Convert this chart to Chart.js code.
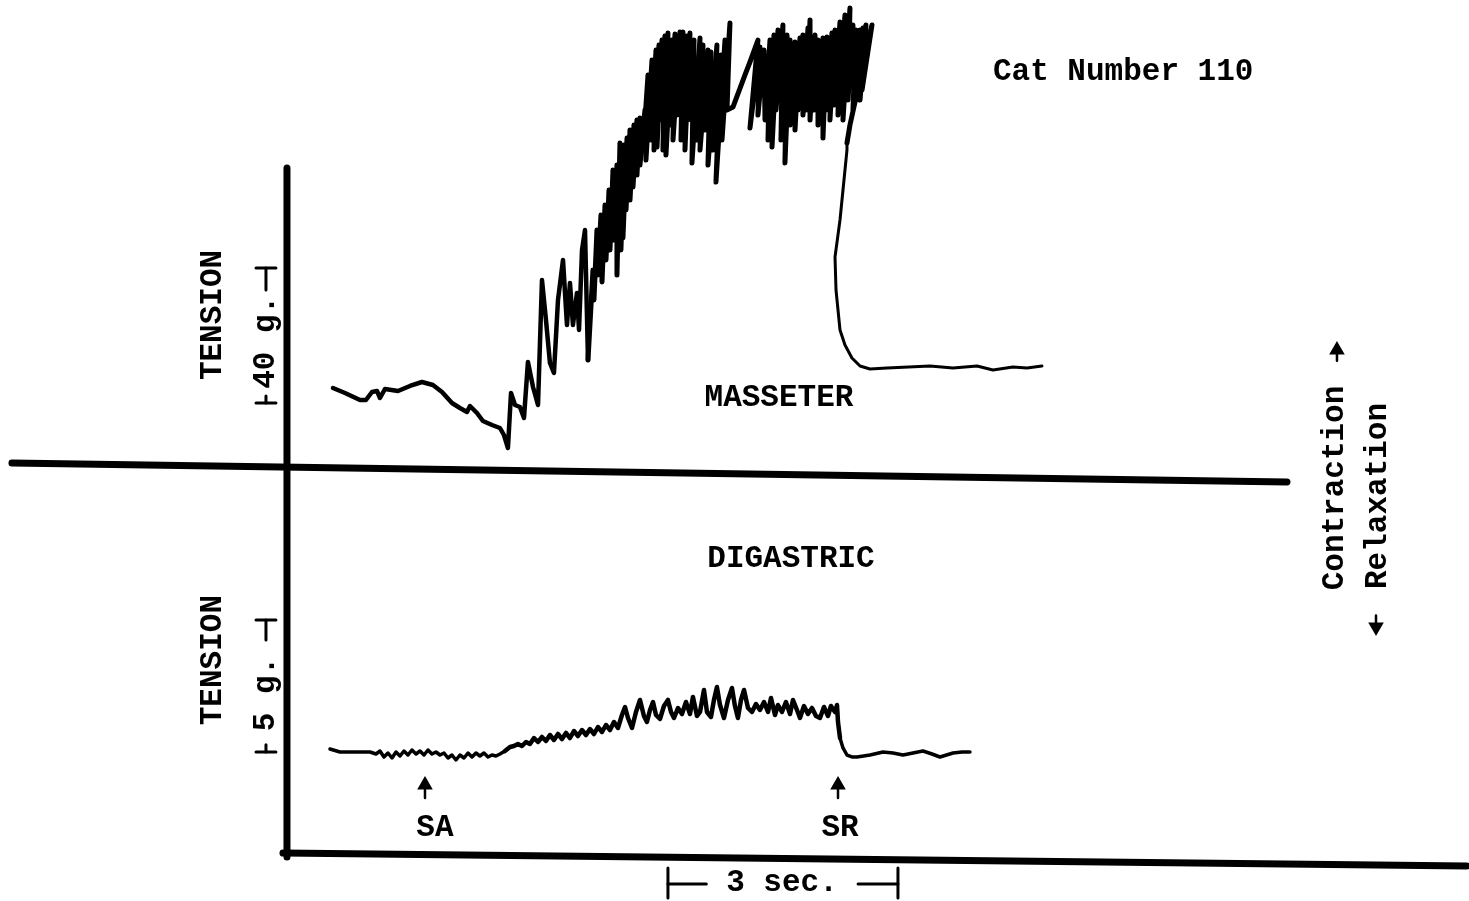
<!DOCTYPE html>
<html>
<head>
<meta charset="utf-8">
<title>Cat Number 110 - masseter and digastric tension</title>
<script src="https://cdn.jsdelivr.net/npm/chart.js@4.4.0/dist/chart.umd.min.js"></script>
<style>
  html, body { margin: 0; padding: 0; background: #fff; }
  #myChart { display: block; }
</style>
</head>
<body>
<canvas id="myChart" width="1469" height="901"></canvas>
<script>
// time in seconds from the vertical axis, tension in grams
// masseter: resting trace before the stimulus
const masseterRest = [
  [0.600, 4.44], [0.757, 2.96], [0.952, 0.89], [1.030, 0.89], [1.109, 3.26], [1.174, 3.56],
  [1.213, 1.48], [1.278, 4.15], [1.448, 3.56], [1.604, 5.04], [1.761, 6.22], [1.904, 5.33],
  [2.022, 3.26], [2.152, 0], [2.256, -1.48], [2.348, -2.67], [2.387, -0.89], [2.478, -2.96],
  [2.556, -5.33], [2.674, -6.52], [2.778, -7.41], [2.830, -9.48], [2.882, -13.33]
];

// masseter: contraction, rising tremor and burst
const masseterBurst = [
  [2.922, 2.96], [2.974, -0.59], [3.039, -1.19], [3.091, -4.44], [3.143, 12.15], [3.209, 4.74],
  [3.274, -0.59], [3.326, 36.44], [3.378, 24.59], [3.430, 11.85], [3.482, 8.89], [3.535, 30.52],
  [3.600, 42.37], [3.652, 23.11], [3.691, 35.56], [3.730, 23.11], [3.782, 32.59], [3.809, 21.63],
  [3.848, 45.33], [3.887, 51.26], [3.926, 12.74], [3.991, 39.41], [4.004, 30.52], [4.043, 51.26],
  [4.056, 37.93], [4.095, 55.70], [4.109, 35.85], [4.148, 58.67], [4.161, 42.37], [4.200, 63.11],
  [4.213, 45.33], [4.252, 69.04], [4.265, 48.30], [4.304, 70.52], [4.304, 37.93], [4.343, 77.04],
  [4.356, 45.33], [4.396, 76.45], [4.382, 48.89], [4.435, 78.52], [4.422, 57.19], [4.474, 80.89],
  [4.474, 60.15], [4.526, 82.37], [4.513, 64.00], [4.565, 83.85], [4.565, 67.56], [4.604, 84.44],
  [4.604, 70.52], [4.669, 86.81], [4.643, 74.96], [4.709, 97.19], [4.682, 72.00], [4.761, 101.63],
  [4.748, 77.93], [4.813, 104.59], [4.787, 74.96], [4.852, 106.07], [4.826, 75.85], [4.891, 107.56],
  [4.865, 83.85], [4.930, 108.74], [4.904, 74.96], [4.969, 109.63], [4.943, 73.48], [5.022, 107.56],
  [4.995, 82.37], [5.061, 109.33], [5.035, 77.93], [5.126, 109.93], [5.087, 85.33], [5.165, 109.93],
  [5.139, 77.93], [5.217, 108.74], [5.191, 74.96], [5.256, 109.63], [5.230, 83.85], [5.309, 107.56],
  [5.282, 71.11], [5.387, 108.15], [5.348, 77.93], [5.426, 106.07], [5.387, 74.96], [5.491, 104.59],
  [5.452, 80.89], [5.530, 104.00], [5.491, 70.52], [5.608, 106.07], [5.556, 74.96], [5.661, 103.11],
  [5.595, 65.48], [5.713, 107.56], [5.674, 77.93], [5.778, 112.59], [5.739, 86.81], [5.817, 87.70],
  [5.974, 97.19], [6.039, 101.04], [6.143, 107.56], [6.039, 81.48], [6.169, 105.48], [6.143, 85.33],
  [6.222, 104.59], [6.235, 83.85], [6.300, 107.56], [6.274, 77.93], [6.352, 109.04], [6.326, 75.85],
  [6.404, 110.52], [6.378, 86.81], [6.469, 112.00], [6.443, 77.93], [6.522, 109.04], [6.495, 71.11],
  [6.561, 107.56], [6.561, 82.37], [6.626, 106.96], [6.626, 80.89], [6.691, 108.15], [6.665, 86.81],
  [6.730, 109.04], [6.730, 85.33], [6.795, 111.11], [6.769, 86.81], [6.822, 113.48], [6.822, 83.85],
  [6.887, 109.04], [6.874, 86.81], [6.926, 107.56], [6.926, 82.37], [6.991, 108.15], [6.991, 78.52],
  [7.043, 108.44], [7.030, 86.81], [7.108, 109.63], [7.082, 83.85], [7.148, 110.52], [7.135, 88.30],
  [7.213, 112.89], [7.187, 85.33], [7.278, 114.96], [7.252, 83.85], [7.343, 117.04], [7.317, 89.78],
  [7.382, 112.00], [7.369, 95.70], [7.422, 110.52], [7.382, 86.81], [7.474, 110.52], [7.435, 92.74],
  [7.513, 111.11], [7.474, 89.78], [7.552, 112.00], [7.500, 92.74], [7.630, 112.00], [7.343, 82.37]
];

// masseter: relaxation after the stimulus is removed
const masseterRelax = [
  [7.304, 77.04], [7.304, 74.96], [7.213, 54.22], [7.148, 43.26], [7.161, 33.48], [7.213, 21.63],
  [7.278, 17.19], [7.369, 13.33], [7.474, 10.96], [7.604, 10.07], [7.826, 10.37], [8.387, 10.96],
  [8.687, 10.37], [9.000, 10.96], [9.208, 9.78], [9.469, 10.67], [9.652, 10.37], [9.847, 10.96]
];

// digastric trace
const digastricTrace = [
  [0.561, 0.114], [0.691, 0], [0.887, 0], [1.083, 0], [1.161, -0.076], [1.213, 0.038],
  [1.265, -0.189], [1.317, -0.038], [1.370, -0.227], [1.422, 0], [1.474, -0.152], [1.526, 0.038],
  [1.578, -0.114], [1.630, 0.076], [1.683, -0.076], [1.735, 0.038], [1.787, -0.114], [1.839, 0.076],
  [1.891, -0.076], [1.943, 0], [1.996, -0.114], [2.048, -0.038], [2.100, -0.227], [2.152, -0.114],
  [2.204, -0.303], [2.256, -0.114], [2.309, -0.227], [2.361, -0.038], [2.413, -0.189], [2.465, -0.038],
  [2.517, -0.152], [2.569, -0.038], [2.622, -0.189], [2.674, -0.114], [2.726, -0.152], [2.778, -0.076],
  [2.843, 0.038], [2.909, 0.189], [2.961, 0.227], [3.013, 0.303], [3.065, 0.227], [3.117, 0.379],
  [3.169, 0.303], [3.222, 0.530], [3.274, 0.379], [3.326, 0.568], [3.378, 0.417], [3.430, 0.644],
  [3.482, 0.455], [3.535, 0.682], [3.587, 0.492], [3.639, 0.720], [3.691, 0.530], [3.743, 0.795],
  [3.795, 0.606], [3.848, 0.833], [3.900, 0.644], [3.952, 0.871], [4.004, 0.682], [4.056, 0.947],
  [4.109, 0.758], [4.161, 1.023], [4.213, 0.833], [4.265, 1.136], [4.317, 0.909], [4.369, 1.402],
  [4.409, 1.705], [4.448, 1.288], [4.500, 0.909], [4.552, 1.515], [4.604, 1.970], [4.656, 1.364],
  [4.695, 1.136], [4.735, 1.591], [4.774, 1.894], [4.813, 1.402], [4.865, 1.250], [4.917, 1.742],
  [4.969, 1.970], [5.009, 1.515], [5.048, 1.288], [5.100, 1.667], [5.152, 1.439], [5.204, 1.894],
  [5.256, 1.439], [5.295, 2.083], [5.348, 1.364], [5.387, 1.515], [5.439, 2.348], [5.478, 1.515],
  [5.530, 1.326], [5.569, 1.970], [5.608, 2.462], [5.648, 1.780], [5.700, 1.288], [5.752, 1.970],
  [5.804, 2.424], [5.843, 1.742], [5.882, 1.288], [5.922, 1.970], [5.961, 2.348], [6.013, 1.667],
  [6.065, 1.515], [6.117, 1.818], [6.169, 1.591], [6.222, 1.894], [6.274, 1.515], [6.313, 2.045],
  [6.365, 1.402], [6.404, 1.780], [6.456, 1.515], [6.508, 1.894], [6.561, 1.439], [6.600, 1.970],
  [6.652, 1.591], [6.691, 1.288], [6.743, 1.742], [6.795, 1.439], [6.848, 1.667], [6.900, 1.364],
  [6.952, 1.288], [7.004, 1.705], [7.056, 1.364], [7.095, 1.742], [7.148, 1.515], [7.174, 1.780],
  [7.187, 1.136], [7.213, 0.530], [7.252, 0.152], [7.304, -0.114], [7.369, -0.189], [7.435, -0.189],
  [7.604, -0.114], [7.774, 0], [7.904, -0.038], [8.035, -0.114], [8.165, -0.038], [8.295, 0.038],
  [8.413, -0.076], [8.517, -0.189], [8.687, -0.038], [8.804, 0], [8.908, 0]
];

// stimulus applied / removed (s)
const stimulusTimes = [1.800, 7.187];
const stimulusLabels = ['SA', 'SR'];

// calibration bars
const masseterScale = [0, 40];   // g
const digastricScale = [0, 5];   // g
const timeScale = [4.969, 7.969]; // s

const traceColor = '#000';
const masseterBurstStart = masseterRest.length;
const masseterFallStart = masseterRest.length + masseterBurst.length;

function pts(arr) {
  return arr.map(p => ({ x: p[0], y: p[1] }));
}

function lineSet(data, axis, width, extra) {
  return Object.assign({
    data: data,
    yAxisID: axis,
    showLine: true,
    borderColor: traceColor,
    backgroundColor: traceColor,
    borderWidth: width,
    borderCapStyle: 'round',
    borderJoinStyle: 'round',
    pointRadius: 0,
    tension: 0
  }, extra || {});
}

function scaleBar(t, low, high, lowStub, highStub, axis) {
  // vertical calibration bar drawn as caps with short stubs
  return [
    lineSet([{ x: t - 0.13, y: high }, { x: t + 0.13, y: high }], axis, 3),
    lineSet([{ x: t, y: high }, { x: t, y: highStub }], axis, 3),
    lineSet([{ x: t - 0.13, y: low }, { x: t + 0.13, y: low }], axis, 3),
    lineSet([{ x: t, y: low }, { x: t, y: lowStub }], axis, 3)
  ];
}

const notes = [
  { text: 'Cat Number 110', t: 9.208, v: 98.07, axis: 'yM', align: 'left' },
  { text: 'MASSETER', t: 6.417, v: 1.48, axis: 'yM' },
  { text: 'DIGASTRIC', t: 6.574, v: 7.31, axis: 'yD' },
  { text: stimulusLabels[0], t: 1.93, v: -2.88, axis: 'yD' },
  { text: stimulusLabels[1], t: 7.213, v: -2.88, axis: 'yD' },
  { text: '3 sec.', t: 6.456, v: -4.98, axis: 'yD' },
  { text: 'TENSION', t: -0.965, v: 26.07, axis: 'yM', vertical: true },
  { text: '40 g.', t: -0.274, v: 18.0, axis: 'yM', vertical: true },
  { text: 'TENSION', t: -0.965, v: 3.48, axis: 'yD', vertical: true },
  { text: '5 g.', t: -0.274, v: 2.2, axis: 'yD', vertical: true },
  { text: 'Contraction', t: 13.669, v: -25.19, axis: 'yM', vertical: true },
  { text: 'Relaxation', t: 14.23, v: -27.56, axis: 'yM', vertical: true }
];

const typedNotes = {
  id: 'typedNotes',
  afterDatasetsDraw(chart) {
    const ctx = chart.ctx;
    ctx.save();
    ctx.fillStyle = traceColor;
    ctx.font = 'bold 31px "Liberation Mono", "DejaVu Sans Mono", monospace';
    ctx.textBaseline = 'middle';
    notes.forEach(n => {
      const px = chart.scales.x.getPixelForValue(n.t);
      const py = chart.scales[n.axis].getPixelForValue(n.v);
      ctx.save();
      ctx.translate(px, py);
      if (n.vertical) ctx.rotate(-Math.PI / 2);
      ctx.textAlign = n.align || 'center';
      ctx.fillText(n.text, 0, 0);
      ctx.restore();
    });
    ctx.restore();
  }
};

const masseterAll = masseterRest.concat(masseterBurst, masseterRelax);

const datasets = [
  // frame: vertical axis, divider between the two muscles, time axis
  lineSet([{ x: 0, y: 69.6 }, { x: 0, y: -134.5 }], 'yM', 7),
  lineSet([{ x: -3.587, y: -17.78 }, { x: 13.043, y: -23.41 }], 'yM', 7),
  lineSet([{ x: -0.052, y: -3.83 }, { x: 15.39, y: -4.32 }], 'yD', 7),

  lineSet(pts(masseterAll), 'yM', 4.5, {
    segment: {
      borderWidth: ctx => ctx.p0DataIndex >= masseterFallStart ? 3 : (ctx.p0DataIndex >= masseterBurstStart + 20 ? 5 : 4.5)
    }
  }),
  lineSet(pts(digastricTrace), 'yD', 3.5, {
    segment: { borderWidth: ctx => (ctx.p0.parsed.x > 2.8 && ctx.p0.parsed.x < 7.19) ? 4.5 : 3.5 }
  })
];

scaleBar(-0.274, masseterScale[0], masseterScale[1], 2.07, 33.48, 'yM').forEach(d => datasets.push(d));
scaleBar(-0.274, digastricScale[0], digastricScale[1], 0.27, 4.24, 'yD').forEach(d => datasets.push(d));

// time bar
datasets.push(lineSet([{ x: timeScale[0], y: -4.39 }, { x: timeScale[0], y: -5.53 }], 'yD', 3));
datasets.push(lineSet([{ x: timeScale[0], y: -5.0 }, { x: timeScale[0] + 0.5, y: -5.0 }], 'yD', 3));
datasets.push(lineSet([{ x: timeScale[1], y: -4.39 }, { x: timeScale[1], y: -5.53 }], 'yD', 3));
datasets.push(lineSet([{ x: timeScale[1] - 0.52, y: -5.0 }, { x: timeScale[1], y: -5.0 }], 'yD', 3));

// stimulus arrows
stimulusTimes.forEach(t => {
  datasets.push(lineSet([{ x: t, y: -1.74 }, { x: t, y: -1.25 }], 'yD', 2.5, {
    pointRadius: [0, 6.5], pointStyle: 'triangle'
  }));
});

// direction arrows next to Contraction / Relaxation
datasets.push(lineSet([{ x: 13.695, y: 12.5 }, { x: 13.695, y: 15.7 }], 'yM', 2.5, {
  pointRadius: [0, 6.5], pointStyle: 'triangle'
}));
datasets.push(lineSet([{ x: 14.204, y: -63.0 }, { x: 14.204, y: -66.37 }], 'yM', 2.5, {
  pointRadius: [0, 6.5], pointStyle: 'triangle', pointRotation: 180
}));

new Chart(document.getElementById('myChart'), {
  type: 'scatter',
  data: { datasets: datasets },
  options: {
    responsive: false,
    animation: false,
    devicePixelRatio: 1,
    layout: { padding: 0, autoPadding: false },
    plugins: { legend: { display: false }, tooltip: { enabled: false } },
    events: [],
    scales: {
      x: { type: 'linear', min: -3.743, max: 15.417, display: false },
      yM: { type: 'linear', position: 'left', min: -147.56, max: 119.41, display: false },
      yD: { type: 'linear', position: 'right', min: -5.644, max: 28.485, display: false }
    }
  },
  plugins: [typedNotes]
});
</script>
</body>
</html>
